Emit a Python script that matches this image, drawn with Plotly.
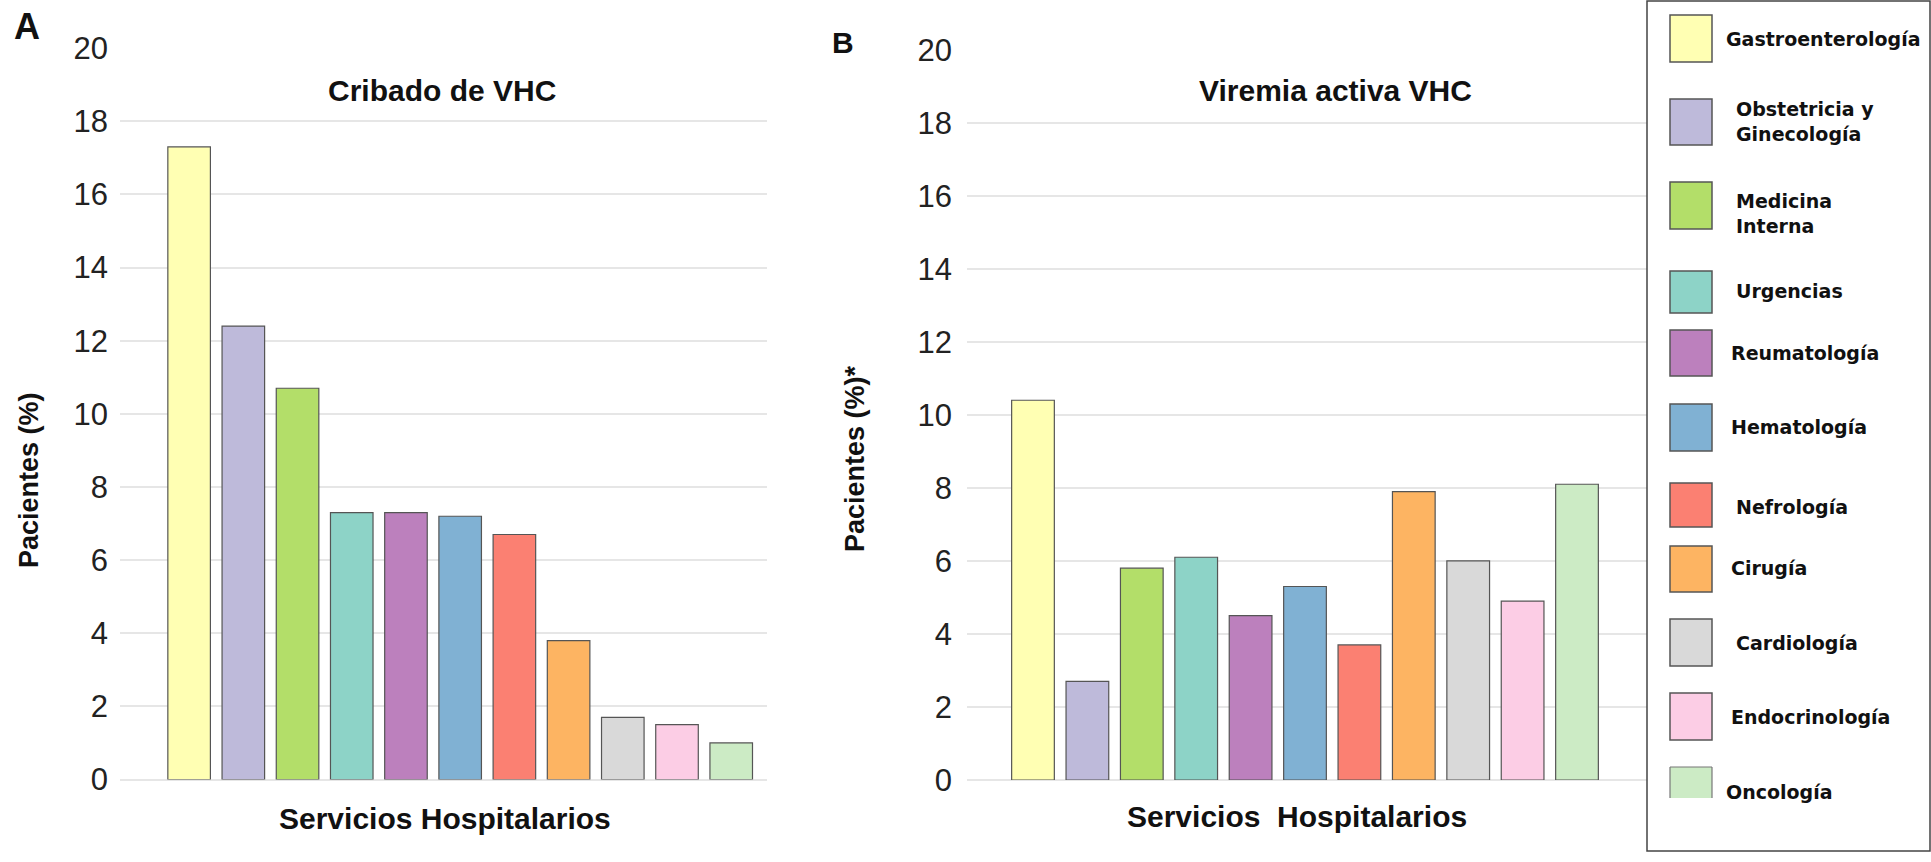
import plotly.graph_objects as go

# ---------------- data ----------------
servicios = ["Gastroenterología", "Obstetricia y Ginecología", "Medicina Interna", "Urgencias",
             "Reumatología", "Hematología", "Nefrología", "Cirugía", "Cardiología",
             "Endocrinología", "Oncología"]
legend_labels = ["Gastroenterología", "Obstetricia y<br>Ginecología", "Medicina<br>Interna", "Urgencias",
                 "Reumatología", "Hematología", "Nefrología", "Cirugía", "Cardiología",
                 "Endocrinología", "Oncología"]
cribado_vhc = [17.3, 12.4, 10.7, 7.3, 7.3, 7.2, 6.7, 3.8, 1.7, 1.5, 1.0]
viremia_vhc = [10.4, 2.7, 5.8, 6.1, 4.5, 5.3, 3.7, 7.9, 6.0, 4.9, 8.1]
colores = ["#FFFFB3", "#BEBADA", "#B3DE69", "#8DD3C7", "#BC80BD", "#80B1D3",
           "#FB8072", "#FDB462", "#D9D9D9", "#FCCDE5", "#CCEBC5"]
y_ticks = [0, 2, 4, 6, 8, 10, 12, 14, 16, 18, 20]

# ---------------- layout helpers ----------------
W, H = 1931, 862
def px(x):
    return x / W
def py(y):
    return 1 - y / H

TICK_FONT = dict(family="Liberation Sans, Arial", size=31, color="#222")
BOLD = "Liberation Sans, Arial"

fig = go.Figure()
fig.add_trace(go.Bar(x=servicios, y=cribado_vhc, marker=dict(color=colores, line=dict(color="#555", width=1.2)),
                     xaxis="x", yaxis="y", showlegend=False))
fig.add_trace(go.Bar(x=servicios, y=viremia_vhc, marker=dict(color=colores, line=dict(color="#555", width=1.2)),
                     xaxis="x2", yaxis="y2", showlegend=False))

grid = dict(showgrid=True, gridcolor="#e6e6e6", gridwidth=2, zeroline=True, zerolinecolor="#e6e6e6",
            zerolinewidth=2, tickvals=y_ticks, ticks="", tickfont=TICK_FONT, range=[0, 20.02],
            showline=False, fixedrange=True, automargin=False)

fig.update_layout(
    width=W, height=H, autosize=False,
    margin=dict(l=0, r=0, t=0, b=0, pad=0),
    paper_bgcolor="white", plot_bgcolor="white",
    bargap=0.215,
    xaxis=dict(domain=[px(120), px(767)], range=[-1.275, 10.66], showticklabels=False, showgrid=False,
               zeroline=False, showline=False, anchor="y", automargin=False),
    yaxis=dict(domain=[py(779.5), py(47.5)], anchor="x", ticklabelstandoff=11, **grid),
    xaxis2=dict(domain=[px(967), px(1648)], range=[-1.213, 11.305], showticklabels=False, showgrid=False,
                zeroline=False, showline=False, anchor="y2", automargin=False),
    yaxis2=dict(domain=[py(780), py(49)], anchor="x2", ticklabelstandoff=14, **grid),
)

ann = []
def txt(x, y, t, size, family=BOLD, bold=True, angle=0, xanchor="center"):
    ann.append(dict(x=px(x), y=py(y), xref="paper", yref="paper", text=(f"<b>{t}</b>" if bold else t),
                    showarrow=False, textangle=angle, xanchor=xanchor, yanchor="middle",
                    font=dict(family=family, size=size, color="#111")))

txt(27, 26, "A", 36)
txt(843, 42, "B", 30)
txt(442, 91, "Cribado de VHC", 30)
txt(1335, 91, "Viremia activa VHC", 30)
txt(445, 818, "Servicios Hospitalarios", 30)
txt(1297, 816, "Servicios\u00a0 Hospitalarios", 30)
txt(29, 480, "Pacientes (%)", 27, angle=-90)
txt(855, 459, "Pacientes (%)*", 27, angle=-90)

# ---------------- manual legend ----------------
shapes = [dict(type="rect", xref="paper", yref="paper", x0=px(1647), x1=px(1930), y0=py(851), y1=py(1),
               line=dict(color="#444", width=1.5), fillcolor="white", layer="above")]
sw_top = [15, 99, 182, 271, 330, 404, 483, 546, 619, 693, 767]
sw_h = [47, 46, 47, 42, 46, 47, 44, 46, 47, 47, 31]
txt_y = [39, 121, 213, 291, 353, 427, 507, 568, 643, 717, 792]
txt_x = [1724, 1734, 1734, 1734, 1729, 1729, 1734, 1729, 1734, 1729, 1724]
for i, c in enumerate(colores):
    last = i == len(colores) - 1
    shapes.append(dict(type="rect", xref="paper", yref="paper", x0=px(1670), x1=px(1712),
                       y0=py(sw_top[i] + sw_h[i]), y1=py(sw_top[i]), fillcolor=c,
                       line=dict(color="#555", width=0 if last else 1.5), layer="above"))
    if last:
        for (xa, ya, xb, yb) in [(1670, sw_top[i], 1712, sw_top[i]), (1670, sw_top[i], 1670, sw_top[i] + sw_h[i]),
                                 (1712, sw_top[i], 1712, sw_top[i] + sw_h[i])]:
            shapes.append(dict(type="line", xref="paper", yref="paper", x0=px(xa), y0=py(ya), x1=px(xb), y1=py(yb),
                               line=dict(color="#777", width=1.2), layer="above"))
    ann.append(dict(x=px(txt_x[i]), y=py(txt_y[i]), xref="paper", yref="paper",
                    text=f"<b>{legend_labels[i]}</b>", showarrow=False, xanchor="left", yanchor="middle",
                    align="left", font=dict(family="DejaVu Sans", size=19, color="#111")))

fig.update_layout(annotations=ann, shapes=shapes)
fig.write_html("out.html", post_script="document.body.style.margin='0';", config={"displayModeBar": False})
